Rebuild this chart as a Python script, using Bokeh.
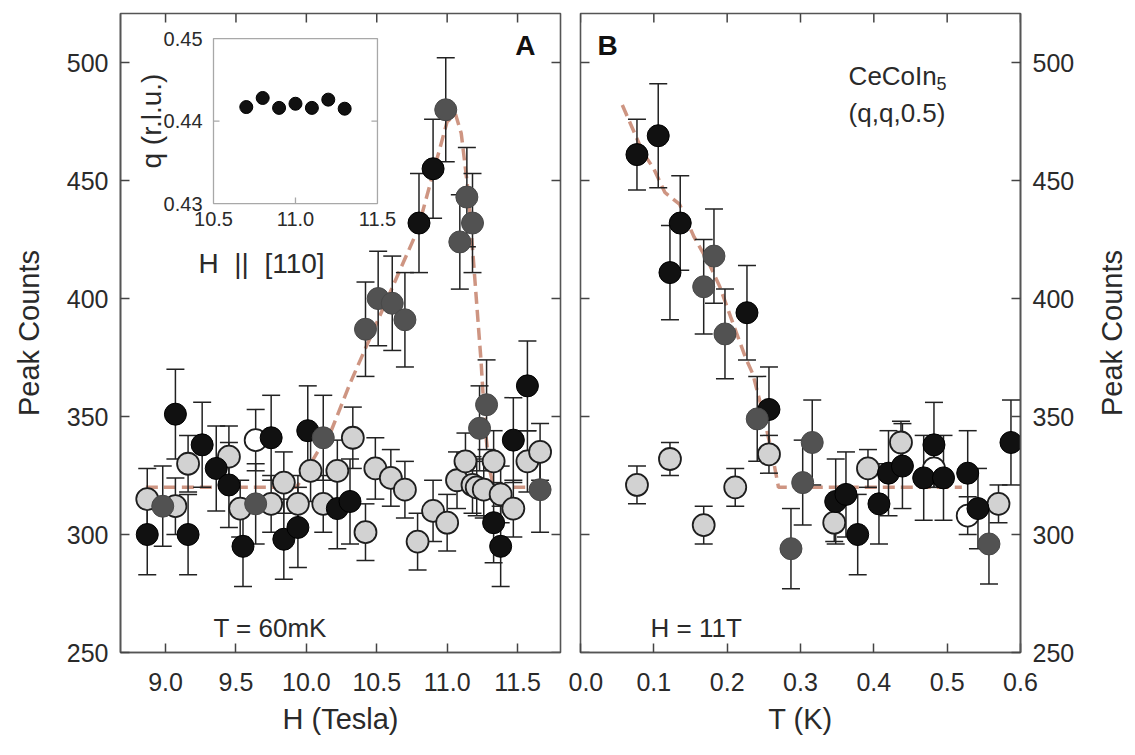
import math
from bokeh.plotting import figure
from bokeh.models import Range1d, FixedTicker, PrintfTickFormatter, LinearAxis, Label
from bokeh.layouts import row
from bokeh.embed import file_html
from bokeh.resources import INLINE
from bokeh.core.properties import value

FONT = "Liberation Sans"
TXT = "#2a2a2a"

# ---------------- Panel A : peak counts vs H (T = 60 mK) ----------------
a_black_H = [8.87, 9.07, 9.16, 9.26, 9.36, 9.45, 9.55, 9.75, 9.84, 9.94, 10.01, 10.22, 10.31,
             10.80, 10.90, 11.33, 11.38, 11.47, 11.57]
a_black_c = [300, 351, 300, 338, 328, 321, 295, 341, 298, 303, 344, 311, 314,
             432, 455, 305, 295, 340, 363]
a_black_e = [17, 19, 17, 18, 18, 18, 17, 18, 17, 17, 19, 17, 18,
             21, 21, 17, 17, 18, 19]

a_dark_H = [8.98, 9.64, 10.12, 10.42, 10.51, 10.61, 10.70, 10.99, 11.09, 11.14, 11.18, 11.23, 11.28, 11.66]
a_dark_c = [312, 313, 341, 387, 400, 398, 391, 480, 424, 443, 432, 345, 355, 319]
a_dark_e = [17, 17, 18, 20, 20, 20, 20, 22, 20, 21, 21, 18, 19, 18]

a_light_H = [8.87, 9.07, 9.16, 9.45, 9.53, 9.75, 9.84, 9.94, 10.03, 10.12, 10.22, 10.33, 10.42,
             10.49, 10.60, 10.70, 10.79, 10.90, 11.00, 11.07, 11.13, 11.18, 11.21, 11.26,
             11.33, 11.38, 11.47, 11.57, 11.66]
a_light_c = [315, 312, 330, 333, 311, 313, 322, 313, 327, 313, 327, 341, 301,
             328, 324, 319, 297, 310, 305, 323, 331, 321, 320, 319,
             331, 317, 311, 331, 335]
a_light_e = [13, 12, 12, 13, 12, 12, 13, 12, 13, 12, 13, 13, 12,
             13, 12, 12, 12, 13, 12, 12, 12, 12, 12, 12,
             13, 12, 12, 13, 12]

a_open_H = [9.64]
a_open_c = [340]
a_open_e = [13]

a_fit_H = [8.86, 9.93, 10.08, 10.17, 10.31, 10.79, 11.00, 11.06, 11.10, 11.15, 11.24, 11.27, 11.30, 11.33, 11.62]
a_fit_c = [320, 320, 335, 343, 364, 429, 475, 478, 470, 445, 374, 345, 328, 320, 320]

# ---------------- Panel B : peak counts vs T (H = 11 T) ----------------
b_black_T = [0.077, 0.106, 0.122, 0.136, 0.227, 0.257, 0.348, 0.362, 0.378, 0.407, 0.420,
             0.439, 0.468, 0.482, 0.495, 0.528, 0.542, 0.587]
b_black_c = [461, 469, 411, 432, 394, 353, 314, 317, 300, 313, 326,
             329, 324, 338, 324, 326, 311, 339]
b_black_e = [15, 22, 20, 20, 20, 18, 18, 18, 17, 17, 18,
             18, 18, 18, 18, 18, 17, 18]

b_dark_T = [0.168, 0.182, 0.197, 0.241, 0.287, 0.303, 0.316, 0.557]
b_dark_c = [405, 418, 385, 349, 294, 322, 339, 296]
b_dark_e = [20, 20, 19, 18, 17, 18, 18, 17]

b_light_T = [0.077, 0.122, 0.168, 0.211, 0.257, 0.346, 0.392, 0.437, 0.570]
b_light_c = [321, 332, 304, 320, 334, 305, 328, 339, 313]
b_light_e = [8, 7, 8, 8, 8, 8, 8, 9, 8]

b_open_T = [0.482, 0.528]
b_open_c = [328, 308]
b_open_e = [8, 8]

b_fit_T = [0.057, 0.085, 0.100, 0.115, 0.135, 0.155, 0.175, 0.190, 0.205, 0.225, 0.235, 0.250, 0.262, 0.270, 0.520]
b_fit_c = [482, 462, 455, 445, 440, 426, 415, 405, 392, 375, 368, 350, 333, 320, 320]

# ---------------- Inset : q vs H ----------------
ins_H = [10.7, 10.8, 10.9, 11.0, 11.1, 11.2, 11.3]
ins_q = [0.4417, 0.4428, 0.4416, 0.4421, 0.4416, 0.4426, 0.4415]
ins_e = [0.0006, 0.0003, 0.0003, 0.0003, 0.0003, 0.0003, 0.0003]

# ticks / labels
a_xticks = [9.0, 9.5, 10.0, 10.5, 11.0, 11.5]
b_xticks = [0.0, 0.1, 0.2, 0.3, 0.4, 0.5, 0.6]
yticks = [250, 300, 350, 400, 450, 500]
ins_xticks = [10.5, 11.0, 11.5]
ins_yticks = [0.43, 0.44, 0.45]

Y_RANGE = (250, 520.8)
A_RANGE = (8.680, 11.805)
B_RANGE = (0.0, 0.6)
INS_X = (10.5, 11.5)
INS_Y = (0.43, 0.45)
INS_TARGET_X = (9.3405, 10.505)
INS_TARGET_Y = (440.25, 510.17)

TICK_SIZE = "25px"
TITLE_SIZE = "29px"
AXIS_COLOR = "#555555"
TICK_COLOR = "#444444"
TICK_LEN = 9


def make_fig(xr, **borders):
    p = figure(x_range=Range1d(*xr), y_range=Range1d(*Y_RANGE), frame_width=440, frame_height=639,
               output_backend="svg", toolbar_location=None, x_axis_location=None, y_axis_location=None,
               **borders)
    p.grid.visible = False
    p.outline_line_color = AXIS_COLOR
    p.outline_line_width = 1.6
    p.background_fill_color = "white"
    p.border_fill_color = "white"
    return p


def add_axis(p, side, ticks, fmt, title=None, label_standoff=12, title_standoff=10):
    ax = LinearAxis(ticker=FixedTicker(ticks=ticks), formatter=PrintfTickFormatter(format=fmt))
    ax.major_tick_in = TICK_LEN
    ax.major_tick_out = 0
    ax.minor_tick_in = 0
    ax.minor_tick_out = 0
    ax.axis_line_color = AXIS_COLOR
    ax.axis_line_width = 1.6
    ax.major_tick_line_color = TICK_COLOR
    ax.major_tick_line_width = 1.5
    ax.major_label_text_font = FONT
    ax.major_label_text_font_size = TICK_SIZE
    ax.major_label_text_color = TXT
    ax.major_label_standoff = label_standoff
    if title:
        ax.axis_label = title
        ax.axis_label_text_font = FONT
        ax.axis_label_text_font_size = TITLE_SIZE
        ax.axis_label_text_font_style = "normal"
        ax.axis_label_text_color = TXT
        ax.axis_label_standoff = title_standoff
    p.add_layout(ax, side)
    return ax


def inner_ticks(p, side, ticks):
    """Unlabelled inward ticks on the frame edges (top / opposite side)."""
    n = len(ticks)
    if side == "above":
        p.ray(x=ticks, y=[p.y_range.end] * n, length=TICK_LEN, length_units="screen",
              angle=-math.pi / 2, line_color=TICK_COLOR, line_width=1.5)
    elif side == "right":
        p.ray(x=[p.x_range.end] * n, y=ticks, length=TICK_LEN, length_units="screen",
              angle=math.pi, line_color=TICK_COLOR, line_width=1.5)
    elif side == "left":
        p.ray(x=[p.x_range.start] * n, y=ticks, length=TICK_LEN, length_units="screen",
              angle=0, line_color=TICK_COLOR, line_width=1.5)


def draw_series(p, xs, ys, es, fill, line, lw):
    lo = [y - e for y, e in zip(ys, es)]
    hi = [y + e for y, e in zip(ys, es)]
    p.segment(x0=xs, y0=lo, x1=xs, y1=hi, line_color="#222222", line_width=1.5)
    p.scatter(x=xs + xs, y=lo + hi, marker="dash", size=18, line_color="#222222", line_width=1.5)
    return (xs, ys, fill, line, lw)


def draw_points(p, spec):
    xs, ys, fill, line, lw = spec
    p.scatter(x=xs, y=ys, marker="circle", size=22, fill_color=fill, line_color=line, line_width=lw)


LIGHT = ("#d2d2d2", "#1e1e1e", 1.8)
OPEN = ("#ffffff", "#1e1e1e", 1.8)
BLACK = ("#111111", "#000000", 1.0)
DARK = ("#525252", "#484848", 1.0)
FIT_COLOR = "#c98a74"

# ================= Panel A =================
pA = make_fig(A_RANGE, min_border_left=120, min_border_right=8, min_border_top=13, min_border_bottom=100)
add_axis(pA, "below", a_xticks, "%.1f", "H (Tesla)", label_standoff=20, title_standoff=9)
add_axis(pA, "left", yticks, "%d", "Peak Counts", label_standoff=12, title_standoff=19)
inner_ticks(pA, "above", a_xticks)
inner_ticks(pA, "right", yticks)

pA.line(a_fit_H, a_fit_c, line_color=FIT_COLOR, line_width=3.5, line_dash="12 6", line_alpha=0.9)
specs = [draw_series(pA, a_light_H, a_light_c, a_light_e, *LIGHT),
         draw_series(pA, a_open_H, a_open_c, a_open_e, *OPEN),
         draw_series(pA, a_black_H, a_black_c, a_black_e, *BLACK),
         draw_series(pA, a_dark_H, a_dark_c, a_dark_e, *DARK)]
for s in specs:
    draw_points(pA, s)

# inset
ins = pA.subplot(x_source=Range1d(*INS_X), y_source=Range1d(*INS_Y),
                 x_target=Range1d(*INS_TARGET_X), y_target=Range1d(*INS_TARGET_Y))
ins.quad(left=[INS_X[0]], right=[INS_X[1]], bottom=[INS_Y[0]], top=[INS_Y[1]],
         fill_color="white", line_color="#a8a8a8", line_width=1.3)
ins.ray(x=[11.0], y=[INS_Y[0]], length=6, length_units="screen", angle=math.pi / 2,
        line_color="#a8a8a8", line_width=1.3)
ins.ray(x=[INS_X[0]], y=[0.44], length=6, length_units="screen", angle=0,
        line_color="#a8a8a8", line_width=1.3)
ins.ray(x=[INS_X[1]], y=[0.44], length=6, length_units="screen", angle=math.pi,
        line_color="#a8a8a8", line_width=1.3)
ins.text(x=[INS_X[0]] * 3, y=ins_yticks, text=["%.2f" % v for v in ins_yticks], x_offset=-11,
         text_align="right", text_baseline="middle", text_font=value(FONT), text_font_size="20px",
         text_color=TXT)
ins.text(x=ins_xticks, y=[INS_Y[0]] * 3, text=["%.1f" % v for v in ins_xticks], y_offset=8,
         text_align="center", text_baseline="top", text_font=value(FONT), text_font_size="20px",
         text_color=TXT)
ins.text(x=[INS_X[0]], y=[0.44], text=["q (r.l.u.)"], x_offset=-62, angle=math.pi / 2,
         text_align="center", text_baseline="middle", text_font=value(FONT), text_font_size="28px",
         text_color=TXT)
ins.text(x=[INS_X[0]], y=[INS_Y[0]], text=["H\u00a0\u00a0||\u00a0\u00a0[110]"], x_offset=-15, y_offset=60,
         text_align="left", text_baseline="middle", text_font=value(FONT), text_font_size="28px",
         text_color=TXT)
i_lo = [q - e for q, e in zip(ins_q, ins_e)]
i_hi = [q + e for q, e in zip(ins_q, ins_e)]
ins.segment(x0=ins_H, y0=i_lo, x1=ins_H, y1=i_hi, line_color="#444444", line_width=1.2)
ins.scatter(x=ins_H, y=ins_q, marker="circle", size=13, fill_color="#111111", line_color="#000000")

pA.add_layout(Label(x=11.556, y=507.2, text="A", text_font=FONT, text_font_style="bold",
                    text_font_size="28px", text_align="center", text_baseline="middle", text_color="#111111"))
pA.add_layout(Label(x=9.34, y=260.5, text="T = 60mK", text_font=FONT, text_font_size="26px",
                    text_align="left", text_baseline="middle", text_color=TXT))

# ================= Panel B =================
pB = make_fig(B_RANGE, min_border_left=12, min_border_right=55, min_border_top=13, min_border_bottom=100)
add_axis(pB, "below", b_xticks, "%.1f", "T (K)", label_standoff=20, title_standoff=9)
add_axis(pB, "right", yticks, "%d", None, label_standoff=12)
inner_ticks(pB, "above", b_xticks)
inner_ticks(pB, "left", yticks)

pB.line(b_fit_T, b_fit_c, line_color=FIT_COLOR, line_width=3.5, line_dash="12 6", line_alpha=0.9)
specs = [draw_series(pB, b_light_T, b_light_c, b_light_e, *LIGHT),
         draw_series(pB, b_open_T, b_open_c, b_open_e, *OPEN),
         draw_series(pB, b_black_T, b_black_c, b_black_e, *BLACK),
         draw_series(pB, b_dark_T, b_dark_c, b_dark_e, *DARK)]
for s in specs:
    draw_points(pB, s)

pB.add_layout(Label(x=0.0368, y=507.2, text="B", text_font=FONT, text_font_style="bold",
                    text_font_size="28px", text_align="center", text_baseline="middle", text_color="#111111"))
pB.add_layout(Label(x=0.0955, y=260.5, text="H = 11T", text_font=FONT, text_font_size="26px",
                    text_align="left", text_baseline="middle", text_color=TXT))
pB.add_layout(Label(x=0.3656, y=494.5, text="CeCoIn", text_font=FONT, text_font_size="26px",
                    text_align="left", text_baseline="middle", text_color=TXT))
pB.add_layout(Label(x=0.3656, y=494.5, x_offset=88, y_offset=-8, text="5", text_font=FONT,
                    text_font_size="18px", text_align="left", text_baseline="middle", text_color=TXT))
pB.add_layout(Label(x=0.3656, y=478.5, text="(q,q,0.5)", text_font=FONT, text_font_size="26px",
                    text_align="left", text_baseline="middle", text_color=TXT))

# ================= right-hand axis title strip =================
pC = figure(x_range=Range1d(0, 1), y_range=Range1d(0, 1), frame_width=52, frame_height=639,
            output_backend="svg", toolbar_location=None, x_axis_location=None, y_axis_location=None,
            min_border_left=0, min_border_right=0, min_border_top=13, min_border_bottom=100)
pC.grid.visible = False
pC.outline_line_color = None
pC.background_fill_color = "white"
pC.border_fill_color = "white"
pC.text(x=[0.654], y=[0.5], text=["Peak Counts"], angle=math.pi / 2, text_align="center",
        text_baseline="middle", text_font=value(FONT), text_font_size=TITLE_SIZE, text_color=TXT)

layout = row(pA, pB, pC)
open("out.html", "w").write(file_html(layout, INLINE))
